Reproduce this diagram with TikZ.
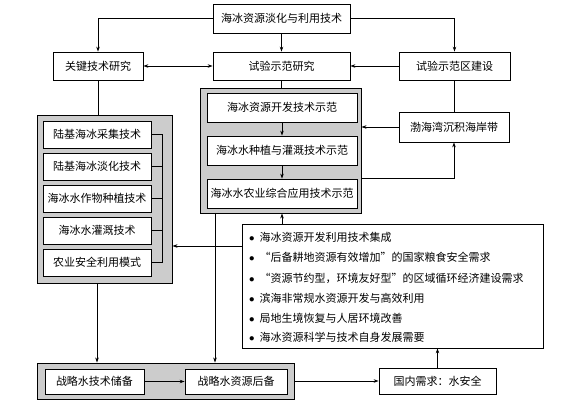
\documentclass[tikz,border=0pt]{standalone}
\usepackage{fontspec}
\setmainfont{Noto Sans CJK SC}
\usepackage{tikz}
\usetikzlibrary{arrows.meta, calc, positioning}
\definecolor{panelgray}{rgb}{0.80, 0.80, 0.80}
\tikzset{
  box/.style={draw, fill=white, line width=0.8pt, inner sep=1pt, font=\fontsize{11}{13}\selectfont},
  panel/.style={draw, fill=panelgray, line width=0.9pt},
  arr/.style={line width=0.7pt, -{Stealth[length=5pt,width=3.5pt]}},
  arrboth/.style={line width=0.7pt, {Stealth[length=5pt,width=3.5pt]}-{Stealth[length=5pt,width=3.5pt]}},
  plain/.style={line width=0.7pt},
  item/.style={anchor=west, inner sep=0pt, font=\fontsize{11}{13}\selectfont}
}

\begin{document}
\begin{tikzpicture}[x=1pt,y=-1pt]
    \useasboundingbox (0,0) rectangle (568,403);
    \begin{scope}[shift={(0,0)}]
        % top rows
        \node[box, minimum width=137, minimum height=29] (top) at (281.5,18.5) {海冰资源淡化与利用技术};
        \node[box, minimum width=90, minimum height=28] (key) at (98,66) {关键技术研究};
        \node[box, minimum width=137, minimum height=28] (study) at (281.5,66) {试验示范研究};
        \node[box, minimum width=111, minimum height=28] (zone) at (454.5,66) {试验示范区建设};

        % middle panel
        \node[panel, minimum width=161, minimum height=125] (grayM) at (280.5,150.5) {};
        \node[box, minimum width=150, minimum height=29] (m1) at (282,107.5) {海冰资源开发技术示范};
        \node[box, minimum width=150, minimum height=29] (m2) at (282,150.5) {海冰水种植与灌溉技术示范};
        \node[box, minimum width=150, minimum height=29] (m3) at (282,193.5) {海冰水农业综合应用技术示范};
        \node[box, minimum width=110, minimum height=30] (bohai) at (454,127) {渤海湾沉积海岸带};

        % left panel
        \node[panel, minimum width=135, minimum height=168] (grayL) at (104.5,199) {};
        \node[box, minimum width=108, minimum height=27] (l1) at (97,134.5) {陆基海冰采集技术};
        \node[box, minimum width=108, minimum height=27] (l2) at (97,166.5) {陆基海冰淡化技术};
        \node[box, minimum width=108, minimum height=27] (l3) at (97,198.5) {海冰水作物种植技术};
        \node[box, minimum width=108, minimum height=27] (l4) at (97,230.5) {海冰水灌溉技术};
        \node[box, minimum width=108, minimum height=27] (l5) at (97,262.5) {农业安全利用模式};

        % needs
        \node[box, minimum width=301, minimum height=124] (needs) at (392.5,286) {};
        \node[item] (n1) at (249,237) {$\bullet$\hspace{5pt}海冰资源开发利用技术集成};
        \node[item] (n2) at (249,257.5) {$\bullet$\hspace{5pt}“后备耕地资源有效增加”的国家粮食安全需求};
        \node[item] (n3) at (249,278) {$\bullet$\hspace{5pt}“资源节约型，环境友好型”的区域循环经济建设需求};
        \node[item] (n4) at (249,298) {$\bullet$\hspace{5pt}滨海非常规水资源开发与高效利用};
        \node[item] (n5) at (249,318) {$\bullet$\hspace{5pt}局地生境恢复与人居环境改善};
        \node[item] (n6) at (249,337.5) {$\bullet$\hspace{5pt}海冰资源科学与技术自身发展需要};

        % bottom row
        \node[panel, minimum width=257, minimum height=36] (grayB) at (165.5,381) {};
        \node[box, minimum width=99, minimum height=25] (s1) at (94.5,381.5) {战略水技术储备};
        \node[box, minimum width=102, minimum height=25] (s2) at (236,381.5) {战略水资源后备};
        \node[box, minimum width=117, minimum height=26] (dom) at (437.5,381) {国内需求：水安全};

        \coordinate (mo) at (361,178);
        \coordinate (ms) at (215,213);
        \coordinate (nl) at (242,246);
        \coordinate (br) at (162,134.5);

        \draw[arr] (top.west) -| (key.north);
        \draw[arr] (top.east) -| (zone.north);
        \draw[arr] (top.south) -- (study.north);
        \draw[arrboth] (key.east) -- (study.west);
        \draw[arr] (zone.west) -- (study.east);
        \draw[plain] (study.south) -- (study.south |- grayM.north);
        \draw[plain] (zone.south) -- (zone.south |- bohai.north);
        \draw[plain] (key.south) -- (key.south |- grayL.north);
        \draw[arr] (m1.south) -- (m2.north);
        \draw[arr] (m2.south) -- (m3.north);
        \draw[arr] (bohai.west) -- (bohai.west -| grayM.east);
        \draw[arr] (mo) -| (bohai.south);
        \draw[arr] (m3 |- needs.north) -- (m3 |- grayM.south);
        \draw[arr] (nl) -- (nl -| grayL.east);
        \draw[plain] (l1.east) -- (br) -- (br |- l5.east) -- (l5.east);
        \draw[plain] (l2.east) -- (br |- l2.east);
        \draw[plain] (l3.east) -- (br |- l3.east);
        \draw[plain] (l4.east) -- (br |- l4.east);
        \draw[arr] (l5 |- grayL.south) -- (l5 |- grayB.north);
        \draw[arr] (ms) -- (ms |- grayB.north);
        \draw[arr] (s1.east) -- (s2.west);
        \draw[arr] (grayB.east) -- (dom.west);
        \draw[arr] (dom.north) -- (dom.north |- needs.south);
    \end{scope}
\end{tikzpicture}
\end{document}
